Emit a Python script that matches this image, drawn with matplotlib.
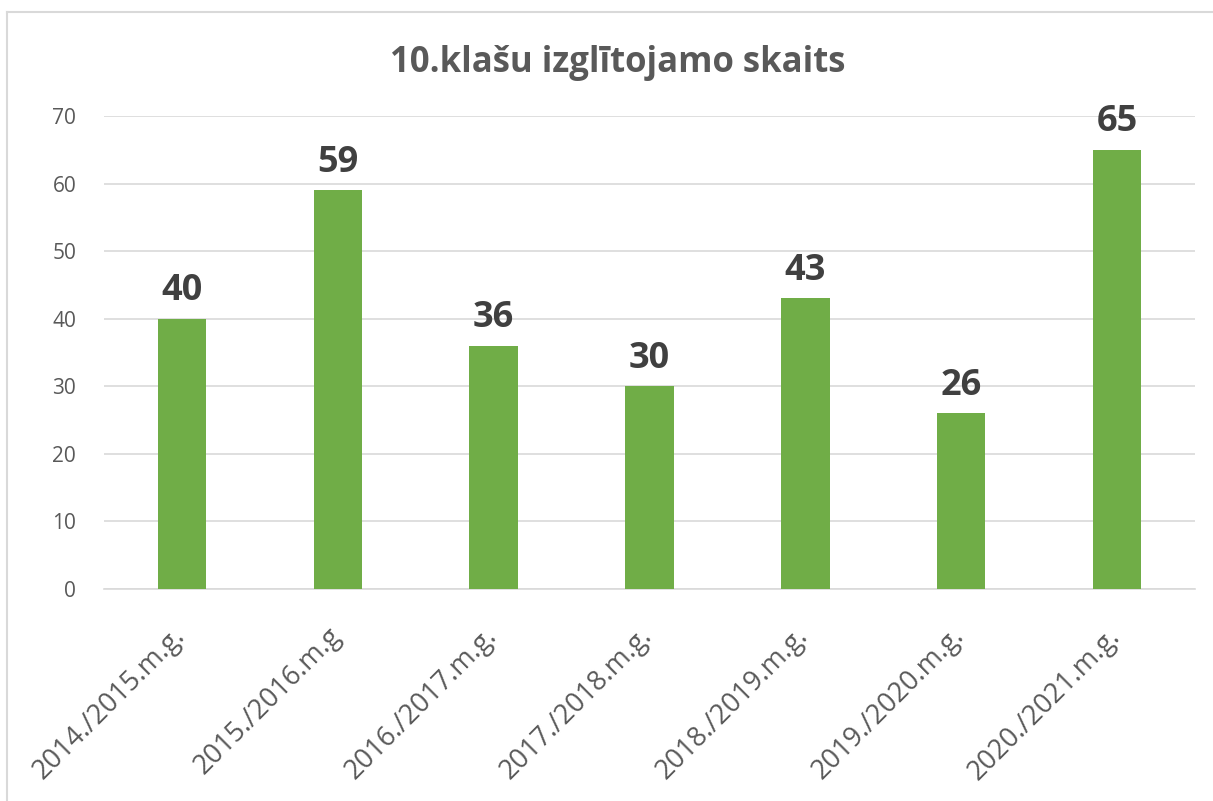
import matplotlib.pyplot as plt
from matplotlib.lines import Line2D
from matplotlib.transforms import ScaledTranslation

# Data
categories = ['2014./2015.m.g.', '2015./2016.m.g', '2016./2017.m.g.', '2017./2018.m.g.',
              '2018./2019.m.g.', '2019./2020.m.g.', '2020./2021.m.g.']
values = [40, 59, 36, 30, 43, 26, 65]
y_ticks = [0, 10, 20, 30, 40, 50, 60, 70]
title = '10.klašu izglītojamo skaits'

plt.rcParams['font.family'] = ['Open Sans', 'DejaVu Sans']

fig = plt.figure(figsize=(12.13, 8.01), dpi=100)
ax = fig.add_axes([0.0857, 0.2647, 0.8995, 0.5905])

x = range(len(categories))
ax.bar(x, values, width=0.31, color='#70AD47', zorder=3)

# Data labels above bars
for xi, v in zip(x, values):
    ax.annotate(str(v), (xi, v), xytext=(0, 7), textcoords='offset points',
                ha='center', va='bottom', fontsize=26, fontweight='bold', color='#404040')

ax.set_xlim(-0.5, len(categories) - 0.5)
ax.set_ylim(0, 70)
ax.set_yticks(y_ticks)
ax.set_yticklabels([str(t) for t in y_ticks], fontsize=15, color='#595959')
ax.set_xticks(list(x))
ax.set_xticklabels(categories, rotation=45, ha='right', va='top', rotation_mode='anchor',
                   fontsize=19.5, color='#595959')
ax.tick_params(axis='both', length=0)
ax.tick_params(axis='y', pad=20)
ax.tick_params(axis='x', pad=24)

# nudge category labels so they end just right of the bar centre
offset = ScaledTranslation(-0.11, 0, fig.dpi_scale_trans)
for lbl in ax.get_xticklabels():
    lbl.set_transform(lbl.get_transform() + offset)

ax.grid(axis='y', color='#d9d9d9', linewidth=1.2, zorder=0)
for side in ['top', 'right', 'left']:
    ax.spines[side].set_visible(False)
ax.spines['bottom'].set_color('#d9d9d9')
ax.spines['bottom'].set_linewidth(1.2)

fig.text(0.509, 0.921, title, ha='center', va='center', fontsize=25,
         fontweight='bold', color='#595959')

# Chart border (top and left edges visible)
fig.add_artist(Line2D([0.0058, 1.0], [0.985, 0.985], transform=fig.transFigure,
                      color='#d9d9d9', linewidth=1.5))
fig.add_artist(Line2D([0.0058, 0.0058], [0.0, 0.985], transform=fig.transFigure,
                      color='#d9d9d9', linewidth=1.5))

fig.savefig('out.png', dpi=100)
